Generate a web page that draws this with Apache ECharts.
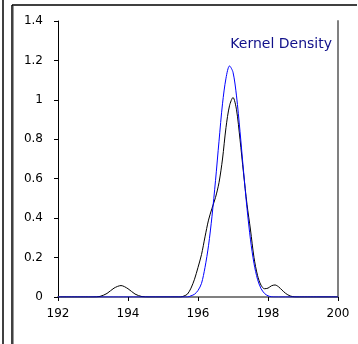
<!DOCTYPE html>
<html>
<head>
<meta charset="utf-8">
<script src="https://cdn.jsdelivr.net/npm/echarts@6/dist/echarts.min.js"></script>
<style>
  html, body { margin: 0; padding: 0; background: #fff; }
  #chart { width: 358px; height: 344px; }
</style>
</head>
<body>
<div id="chart"></div>
<script>
// x positions (same grid for both curves)
const xValues = [
  192, 195.4, 195.5, 195.6, 195.7, 195.8, 195.9, 196.0, 196.1, 196.2, 196.3,
  196.4, 196.5, 196.6, 196.7, 196.8, 196.9, 197.0, 197.1, 197.2, 197.3,
  197.4, 197.5, 197.6, 197.7, 197.8, 197.9, 198.0, 198.1, 198.2, 198.3,
  198.4, 198.5, 198.6, 198.7, 198.8, 198.9, 200
];

// kernel density estimate (black)
const kernelValues = [
  0, 0, 0, 0.005, 0.015, 0.045, 0.09, 0.15, 0.215, 0.305, 0.39,
  0.45, 0.505, 0.58, 0.7, 0.86, 0.97, 1.012, 0.95, 0.8, 0.63,
  0.47, 0.34, 0.2, 0.11, 0.06, 0.042, 0.045, 0.057, 0.061, 0.052,
  0.035, 0.019, 0.008, 0.002, 0, 0, 0
];

// small bump on the left of the kernel curve
const bumpX = [193.0, 193.2, 193.4, 193.6, 193.8, 194.0, 194.2, 194.4, 194.6];
const bumpValues = [0, 0.003, 0.018, 0.045, 0.058, 0.042, 0.015, 0.002, 0];

// fitted normal density (blue)
const normalValues = [
  0, 0, 0, 0, 0, 0.006, 0.014, 0.033, 0.069, 0.15, 0.26,
  0.41, 0.59, 0.79, 0.98, 1.11, 1.172, 1.14, 1.02, 0.84, 0.64,
  0.45, 0.29, 0.17, 0.09, 0.043, 0.018, 0.006, 0.001, 0, 0,
  0, 0, 0, 0, 0, 0, 0
];

const xTicks = [192, 194, 196, 198, 200];
const yTicks = [0, 0.2, 0.4, 0.6, 0.8, 1, 1.2, 1.4];
const labelText = "Kernel Density";

function pairs(xs, ys) {
  return xs.map((x, i) => [x, ys[i]]);
}

// merge bump into the kernel curve
const kernelData = pairs(bumpX, bumpValues)
  .concat(pairs(xValues, kernelValues))
  .sort((a, b) => a[0] - b[0]);

const chart = echarts.init(document.getElementById("chart"));

const font = "DejaVu Sans";

chart.setOption({
  animation: false,
  backgroundColor: "#fff",
  grid: { left: 58, top: 21, right: 20, bottom: 47, containLabel: false },
  xAxis: [
    {
      type: "value",
      min: xTicks[0],
      max: xTicks[xTicks.length - 1],
      interval: 2,
      axisLine: { lineStyle: { color: "#000", width: 1 } },
      axisTick: { length: 4, lineStyle: { color: "#000" } },
      axisLabel: { color: "#000", fontFamily: font, fontSize: 12, margin: 11 },
      splitLine: { show: false }
    },
    {
      type: "value",
      position: "top",
      min: xTicks[0],
      max: xTicks[xTicks.length - 1],
      axisLine: { show: true, lineStyle: { color: "#808080", width: 2 } },
      axisTick: { show: false },
      axisLabel: { show: false },
      splitLine: { show: false }
    }
  ],
  yAxis: [
    {
      type: "value",
      min: yTicks[0],
      max: yTicks[yTicks.length - 1],
      interval: 0.2,
      axisLine: { show: true, lineStyle: { color: "#000", width: 1 } },
      axisTick: { show: true, length: 4, lineStyle: { color: "#000" } },
      axisLabel: { color: "#000", fontFamily: font, fontSize: 12, margin: 15 },
      splitLine: { show: false }
    },
    {
      type: "value",
      position: "right",
      min: yTicks[0],
      max: yTicks[yTicks.length - 1],
      axisLine: { show: true, lineStyle: { color: "#808080", width: 2 } },
      axisTick: { show: false },
      axisLabel: { show: false },
      splitLine: { show: false }
    }
  ],
  series: [
    {
      type: "line",
      data: kernelData,
      showSymbol: false,
      smooth: 0.3,
      lineStyle: { color: "#000", width: 1 },
      z: 3
    },
    {
      type: "line",
      data: pairs(xValues, normalValues),
      showSymbol: false,
      smooth: 0.3,
      lineStyle: { color: "#0000ff", width: 1 },
      z: 4
    }
  ],
  graphic: [
    {
      type: "text",
      x: 332,
      y: 44,
      style: {
        text: labelText,
        fill: "#10108a",
        font: "14px 'DejaVu Sans'",
        textAlign: "right",
        textVerticalAlign: "middle"
      }
    },
    // outer panel lines
    { type: "line", shape: { x1: 3, y1: 0, x2: 3, y2: 344 }, style: { stroke: "#000", lineWidth: 1.5 } },
    { type: "line", shape: { x1: 12, y1: 5, x2: 12, y2: 344 }, style: { stroke: "#000", lineWidth: 1.5 } },
    { type: "line", shape: { x1: 13.5, y1: 6, x2: 13.5, y2: 344 }, style: { stroke: "#999", lineWidth: 1 } },
    { type: "line", shape: { x1: 12, y1: 5, x2: 357, y2: 5 }, style: { stroke: "#000", lineWidth: 1.5 } }
  ]
});
</script>
</body>
</html>
